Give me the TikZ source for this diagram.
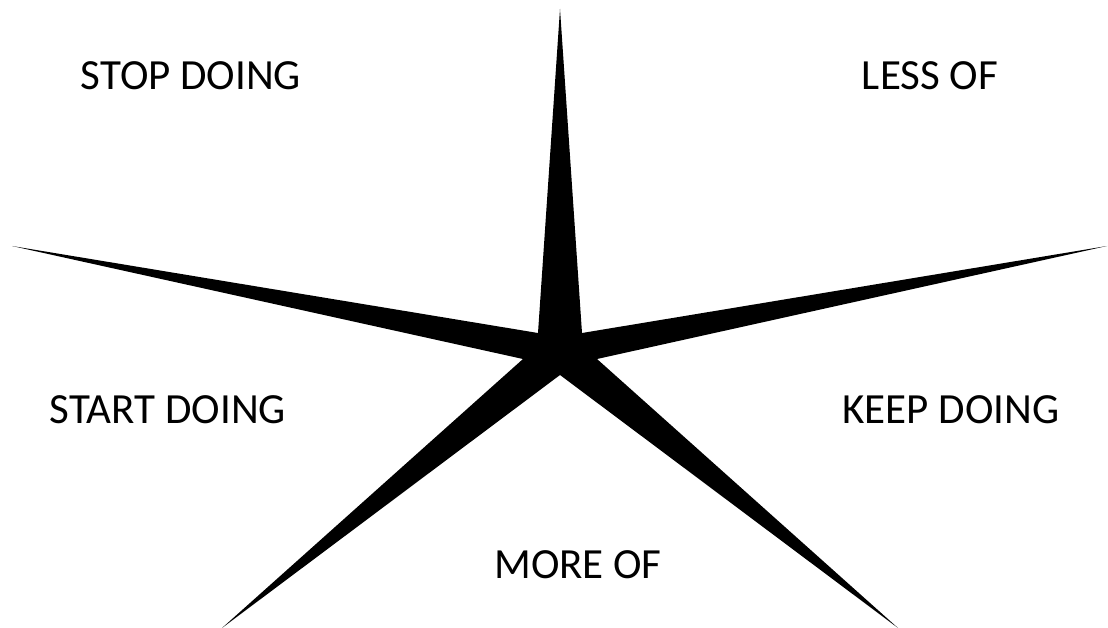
\documentclass[tikz,border=0pt]{standalone}
\usepackage{fontspec}
\setmainfont{Carlito}
\usetikzlibrary{positioning}
\definecolor{starblack}{RGB}{0,0,0}
\tikzset{
  lbl/.style={text=black, font=\fontsize{43}{50}\selectfont, inner sep=0pt, anchor=center}
}

\begin{document}
\begin{tikzpicture}[x=1pt,y=-1pt]%
      \useasboundingbox (0,0) rectangle (1108,628);
      % star tips and inner corners
      \coordinate (tipN) at (560,9);
      \coordinate (tipW) at (12,246);
      \coordinate (tipE) at (1107,246);
      \coordinate (tipSW) at (222,628);
      \coordinate (tipSE) at (898,628);
      \coordinate (inNW) at (538,333);
      \coordinate (inNE) at (582,333);
      \coordinate (inW) at (523,359);
      \coordinate (inE) at (597,359);
      \coordinate (inS) at (560,375);
      \fill[starblack] (tipN) -- (inNE) -- (tipE) -- (inE) -- (tipSE) -- (inS)
        -- (tipSW) -- (inW) -- (tipW) -- (inNW) -- cycle;
      % labels
      \node[lbl] (stop) at (191,76) {STOP DOING};
      \node[lbl] (less) at (930,76) {LESS OF};
      \node[lbl] (start) at (168,410) {START DOING};
      \node[lbl] (keep) at (951,410) {KEEP DOING};
      \node[lbl] (more) at (578,565) {MORE OF};
    \end{tikzpicture}
\end{document}
